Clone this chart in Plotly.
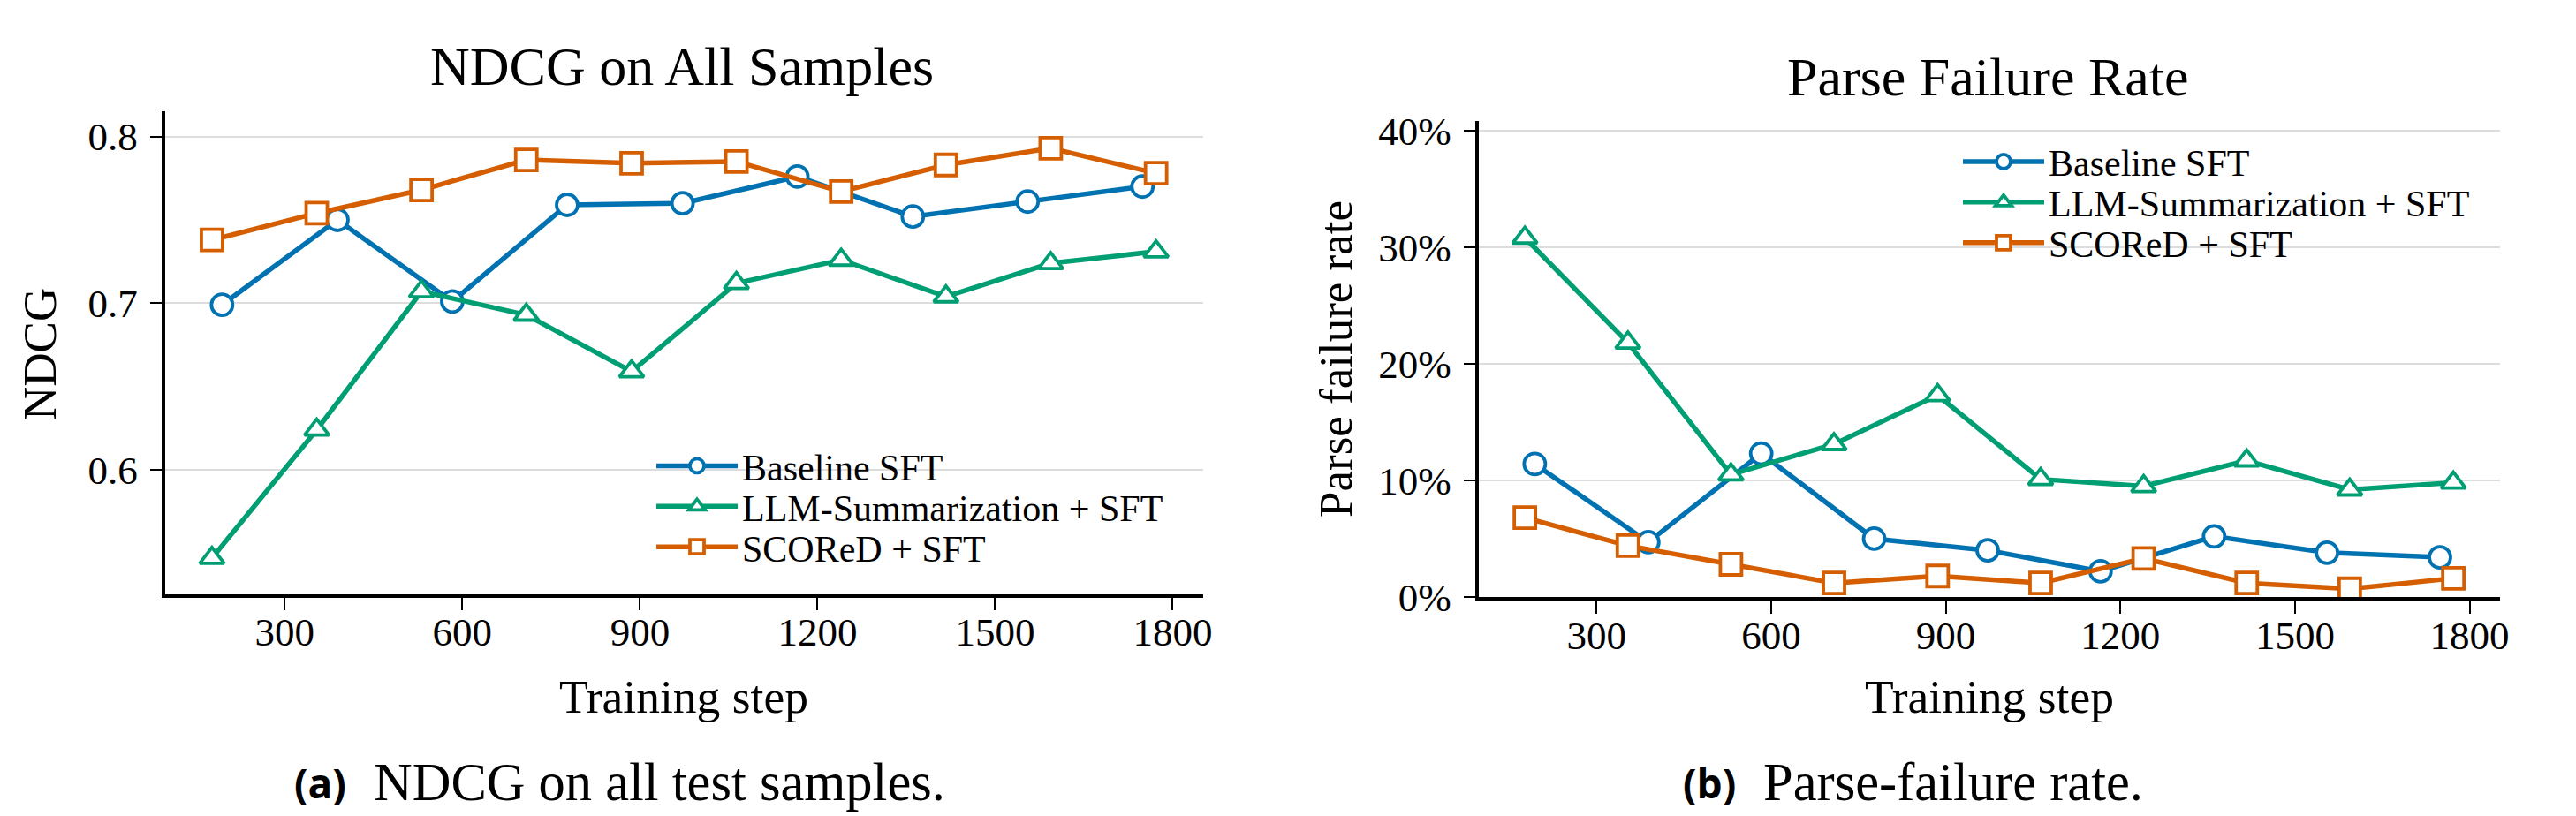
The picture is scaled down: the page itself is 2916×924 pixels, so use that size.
import plotly.graph_objects as go

# ---------------- data ----------------
series_names = ["Baseline SFT", "LLM-Summarization + SFT", "SCOReD + SFT"]

steps_baseline = [194, 389, 583, 777, 972, 1166, 1361, 1555, 1749]
steps_llm = [177, 354, 531, 708, 886, 1063, 1240, 1417, 1594, 1772]
steps_scored = [177, 354, 531, 708, 886, 1063, 1240, 1417, 1594, 1772]

ndcg_baseline = [0.699, 0.750, 0.701, 0.759, 0.760, 0.776, 0.752, 0.761, 0.770]
ndcg_llm = [0.547, 0.624, 0.707, 0.693, 0.659, 0.712, 0.726, 0.704, 0.724, 0.731]
ndcg_scored = [0.738, 0.754, 0.768, 0.786, 0.784, 0.785, 0.767, 0.783, 0.793, 0.778]

pfr_baseline = [0.114, 0.047, 0.123, 0.050, 0.040, 0.022, 0.052, 0.038, 0.034]
pfr_llm = [0.308, 0.218, 0.105, 0.131, 0.173, 0.101, 0.095, 0.117, 0.092, 0.098]
pfr_scored = [0.068, 0.044, 0.028, 0.012, 0.018, 0.012, 0.033, 0.012, 0.007, 0.016]

x_ticks = [300, 600, 900, 1200, 1500, 1800]
ndcg_ticks = [0.6, 0.7, 0.8]
pfr_ticks = [0.0, 0.1, 0.2, 0.3, 0.4]

titles = ["NDCG on All Samples", "Parse Failure Rate"]
y_titles = ["NDCG", "Parse failure rate"]
x_title = "Training step"
captions = [("(a)", "NDCG on all test samples."), ("(b)", "Parse-failure rate.")]

# ---------------- style ----------------
W, H = 2916, 924
SERIF = "Liberation Serif, Times New Roman, serif"
SANS = "Open Sans, Inter, sans-serif"
colors = ["#0072B2", "#009E73", "#D55E00"]
symbols = ["circle", "triangle-up", "square"]


def px(x):
    return x / W


def py(y):
    return 1 - y / H


fig = go.Figure()

steps_all = [steps_baseline, steps_llm, steps_scored]
left_vals = [ndcg_baseline, ndcg_llm, ndcg_scored]
right_vals = [pfr_baseline, pfr_llm, pfr_scored]

for i in range(3):
    fig.add_trace(go.Scatter(
        x=steps_all[i], y=left_vals[i], name=series_names[i], mode="lines+markers",
        showlegend=True,
        line=dict(color=colors[i], width=5.5),
        marker=dict(symbol=symbols[i], size=24, color="white",
                    line=dict(color=colors[i], width=3.8)),
        xaxis="x", yaxis="y", legend="legend" if i == 0 else f"legend{i + 1}",
    ))
for i in range(3):
    fig.add_trace(go.Scatter(
        x=steps_all[i], y=right_vals[i], name=series_names[i], mode="lines+markers",
        showlegend=True,
        line=dict(color=colors[i], width=5.5),
        marker=dict(symbol=symbols[i], size=24, color="white",
                    line=dict(color=colors[i], width=3.8)),
        xaxis="x2", yaxis="y2", legend=f"legend{i + 4}",
    ))

all_steps = steps_baseline + steps_llm + steps_scored
lo, hi = min(all_steps), max(all_steps)
pad = 0.05 * (hi - lo)
x_range = [lo - pad, hi + pad]

axis_common = dict(
    showline=True, linecolor="black", linewidth=3.5, ticks="outside",
    tickcolor="black", tickwidth=2, zeroline=False,
    tickfont=dict(family=SERIF, size=45, color="black"),
)

fig.update_layout(
    width=W, height=H, margin=dict(l=0, r=0, t=0, b=0, autoexpand=False),
    showlegend=True,
    paper_bgcolor="white", plot_bgcolor="white",
    font=dict(family=SERIF, color="black"),
    xaxis=dict(axis_common, domain=[px(186.5), px(1362.1)], range=x_range,
               tickvals=x_ticks, ticklen=15, showgrid=False, anchor="y",
               ticklabelstandoff=-14),
    yaxis=dict(axis_common, domain=[py(672.5), py(126)], range=[0.5255, 0.8152],
               tickvals=ndcg_ticks, tickformat=".1f", ticklen=13, showgrid=True,
               gridcolor="#dddddd", gridwidth=2, anchor="x", ticklabelstandoff=5),
    xaxis2=dict(axis_common, domain=[px(1673.6), px(2829.7)], range=x_range,
                tickvals=x_ticks, ticklen=15, showgrid=False, anchor="y2",
                ticklabelstandoff=-14),
    yaxis2=dict(axis_common, domain=[py(676), py(137.2)], range=[0.0, 0.408],
                tickvals=pfr_ticks, tickformat=".0%", ticklen=13, showgrid=True,
                gridcolor="#dddddd", gridwidth=2, anchor="x2", ticklabelstandoff=5),
)

# one legend per entry so the rows can be spaced like the reference
legend_rows = [(738, [527.6, 573.5, 619.4]), (2217, [183.1, 229.0, 275.0])]
k = 0
for lx, rows in legend_rows:
    for ry in rows:
        name = "legend" if k == 0 else f"legend{k + 1}"
        fig.update_layout({name: dict(
            x=px(lx), y=py(ry), xanchor="left", yanchor="middle",
            bgcolor="rgba(0,0,0,0)", borderwidth=0,
            font=dict(family=SERIF, size=42, color="black"),
            itemwidth=92,
        )})
        k += 1

# white legend backgrounds (hide the grid lines behind the legend, like the reference)
legend_boxes = [(729, 500, 1340, 646), (2207, 158, 2808, 300)]
fig.update_layout(shapes=[
    dict(type="rect", xref="paper", yref="paper", layer="between",
         x0=px(x0), x1=px(x1), y0=py(y1), y1=py(y0),
         fillcolor="white", line=dict(width=0))
    for x0, y0, x1, y1 in legend_boxes
])

ann = []
# panel titles
ann.append(dict(text=titles[0], x=px(772), y=py(75), font=dict(size=62)))
ann.append(dict(text=titles[1], x=px(2250), y=py(87), font=dict(size=62)))
# axis titles
ann.append(dict(text=x_title, x=px(774), y=py(789), font=dict(size=53.5)))
ann.append(dict(text=x_title, x=px(2252), y=py(789), font=dict(size=53.5)))
ann.append(dict(text=y_titles[0], x=px(45), y=py(401), textangle=-90, font=dict(size=53)))
ann.append(dict(text=y_titles[1], x=px(1512), y=py(407), textangle=-90, font=dict(size=53)))
# sub-figure captions
ann.append(dict(text="<b>" + captions[0][0] + "</b>", x=px(394), y=py(886), xanchor="right",
                font=dict(family=SANS, size=46)))
ann.append(dict(text=captions[0][1], x=px(421), y=py(885), xanchor="left", font=dict(size=60.5)))
ann.append(dict(text="<b>" + captions[1][0] + "</b>", x=px(1967), y=py(886), xanchor="right",
                font=dict(family=SANS, size=46)))
ann.append(dict(text=captions[1][1], x=px(1994), y=py(885), xanchor="left", font=dict(size=60.5)))

for a in ann:
    a.setdefault("xanchor", "center")
    a.update(xref="paper", yref="paper", yanchor="middle", showarrow=False)
    f = a.get("font", {})
    f.setdefault("family", SERIF)
    f.setdefault("color", "black")
    a["font"] = f

fig.update_layout(annotations=ann)

# remove the default page margin so the figure sits at the window's top-left corner
fig.write_html("out.html", post_script="document.body.style.margin='0';")
